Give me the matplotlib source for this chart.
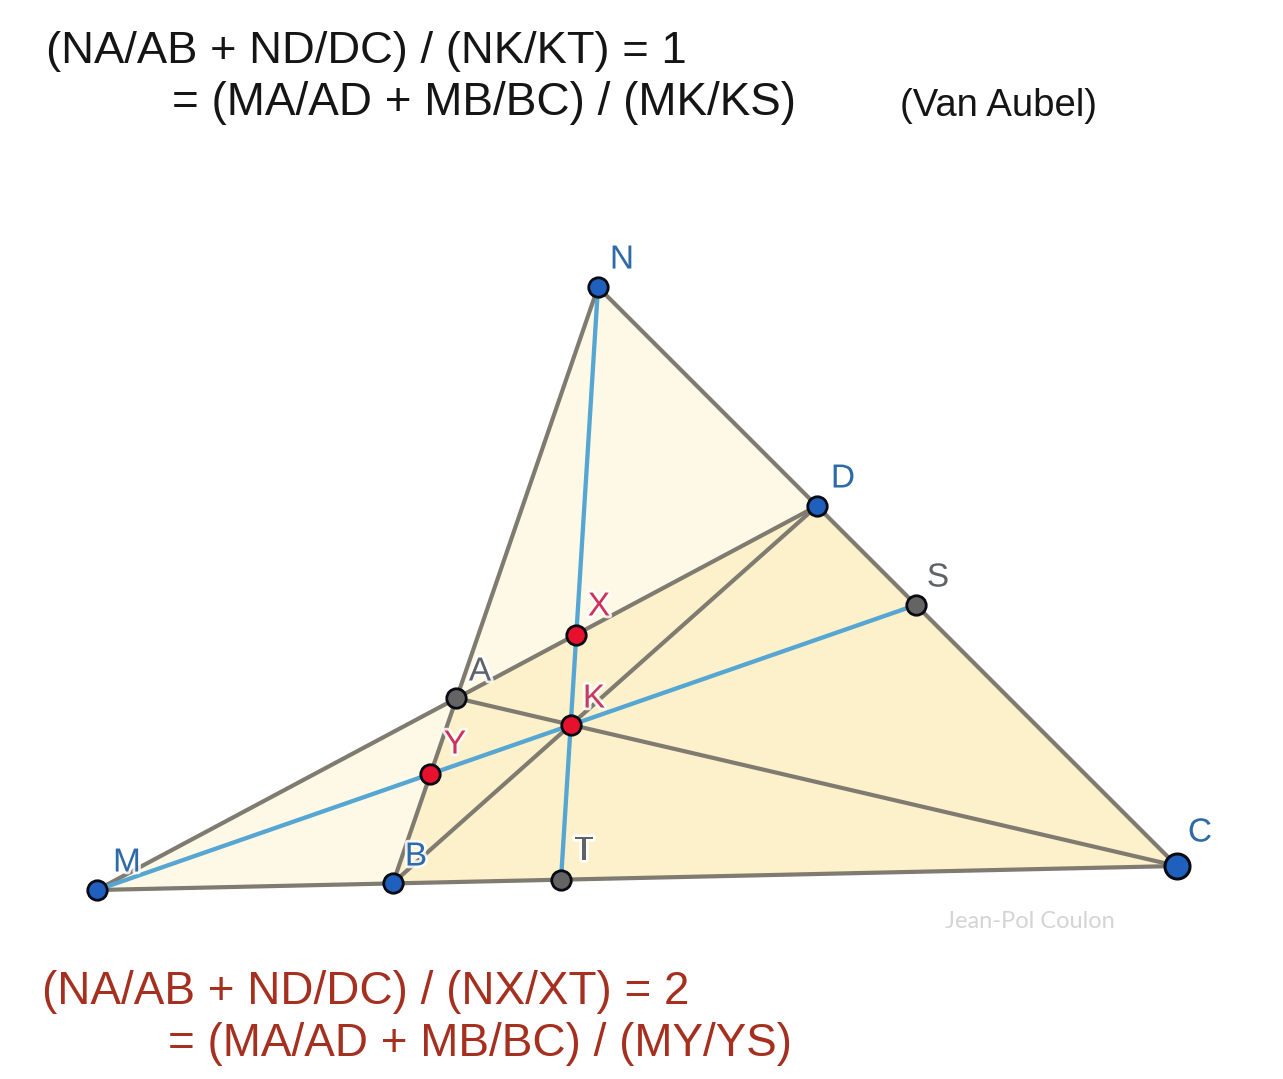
import matplotlib
matplotlib.use('Agg')
import matplotlib.pyplot as plt
import matplotlib.patheffects as pe

plt.rcParams['font.family'] = ['Liberation Sans', 'DejaVu Sans']

# pixel positions of the figure's points
names = ['N', 'D', 'C', 'A', 'B', 'M', 'T', 'S', 'K', 'X', 'Y']
xs = [598, 817, 1177, 456, 393, 97, 561, 916, 571, 576, 430]
ys = [287, 506, 866, 698, 883, 890, 880, 605, 725, 635, 774]
pts = dict(zip(names, zip(xs, ys)))

light_regions = [['N', 'A', 'D'], ['M', 'A', 'B']]
dark_regions = [['A', 'B', 'C', 'D']]
grey_segments = [('N', 'B'), ('N', 'C'), ('M', 'D'), ('M', 'C'), ('A', 'C'), ('B', 'D')]
blue_segments = [('N', 'T'), ('M', 'S')]

blue_pts = ['N', 'D', 'B', 'M']
grey_pts = ['A', 'T', 'S']
red_pts = ['K', 'X', 'Y']

# label, x, y, colour
labels = [('N', 622, 260, '#2f6aa8'), ('D', 843, 479, '#2f6aa8'), ('S', 938, 578, '#5f6266'),
          ('C', 1200, 833, '#2f6aa8'), ('A', 480, 672, '#5f6266'), ('X', 599, 607, '#d0305a'),
          ('K', 594, 699, '#c83a5e'), ('Y', 455, 745, '#d0305a'), ('B', 416, 857, '#2f6aa8'),
          ('T', 584, 851, '#5f6266'), ('M', 127, 863, '#2f6aa8')]

fig = plt.figure(figsize=(12.83, 10.79), dpi=100)
ax = fig.add_axes([0, 0, 1, 1])
ax.set_xlim(0, 1283)
ax.set_ylim(1079, 0)
ax.axis('off')


def xy(keys):
    return [pts[k] for k in keys]


for r in light_regions:
    ax.fill(*zip(*xy(r)), color='#fef9e7', lw=0, zorder=1)
for r in dark_regions:
    ax.fill(*zip(*xy(r)), color='#fcf1ca', lw=0, zorder=2)

for a, b in grey_segments:
    ax.plot(*zip(*xy([a, b])), color='#7f7b70', lw=3, zorder=3, solid_capstyle='round')
for a, b in blue_segments:
    ax.plot(*zip(*xy([a, b])), color='#55a6d3', lw=3.1, zorder=4, solid_capstyle='round')

for group, col in ((blue_pts, '#1f5fbd'), (grey_pts, '#646464'), (red_pts, '#e8112d')):
    for k in group:
        ax.plot(*pts[k], 'o', ms=14, mfc=col, mec='#0a0a14', mew=2, zorder=5)
ax.plot(*pts['C'], 'o', ms=18, mfc='#1f5fbd', mec='#0a0a14', mew=2.2, zorder=5)

for t, x, y, c in labels:
    ax.text(x, y, t, color=c, fontsize=24, ha='center', va='center', zorder=6,
            path_effects=[pe.withStroke(linewidth=4, foreground='white', alpha=0.85)])

ax.text(46, 51, '(NA/AB + ND/DC) / (NK/KT) = 1', fontsize=32.7, color='#151515', va='center')
ax.text(172, 103, '= (MA/AD + MB/BC) / (MK/KS)', fontsize=33, color='#151515', va='center')
ax.text(900, 106, '(Van Aubel)', fontsize=27.5, color='#151515', va='center')
ax.text(42, 992, '(NA/AB + ND/DC) / (NX/XT) = 2', fontsize=33, color='#a5301f', va='center')
ax.text(168, 1044, '= (MA/AD + MB/BC) / (MY/YS)', fontsize=33.05, color='#a5301f', va='center')
ax.text(945, 921, 'Jean-Pol Coulon', fontsize=17, color='#d4d4d4', va='center', family=['Lato', 'Liberation Sans'])

fig.savefig('out.png', dpi=100)
